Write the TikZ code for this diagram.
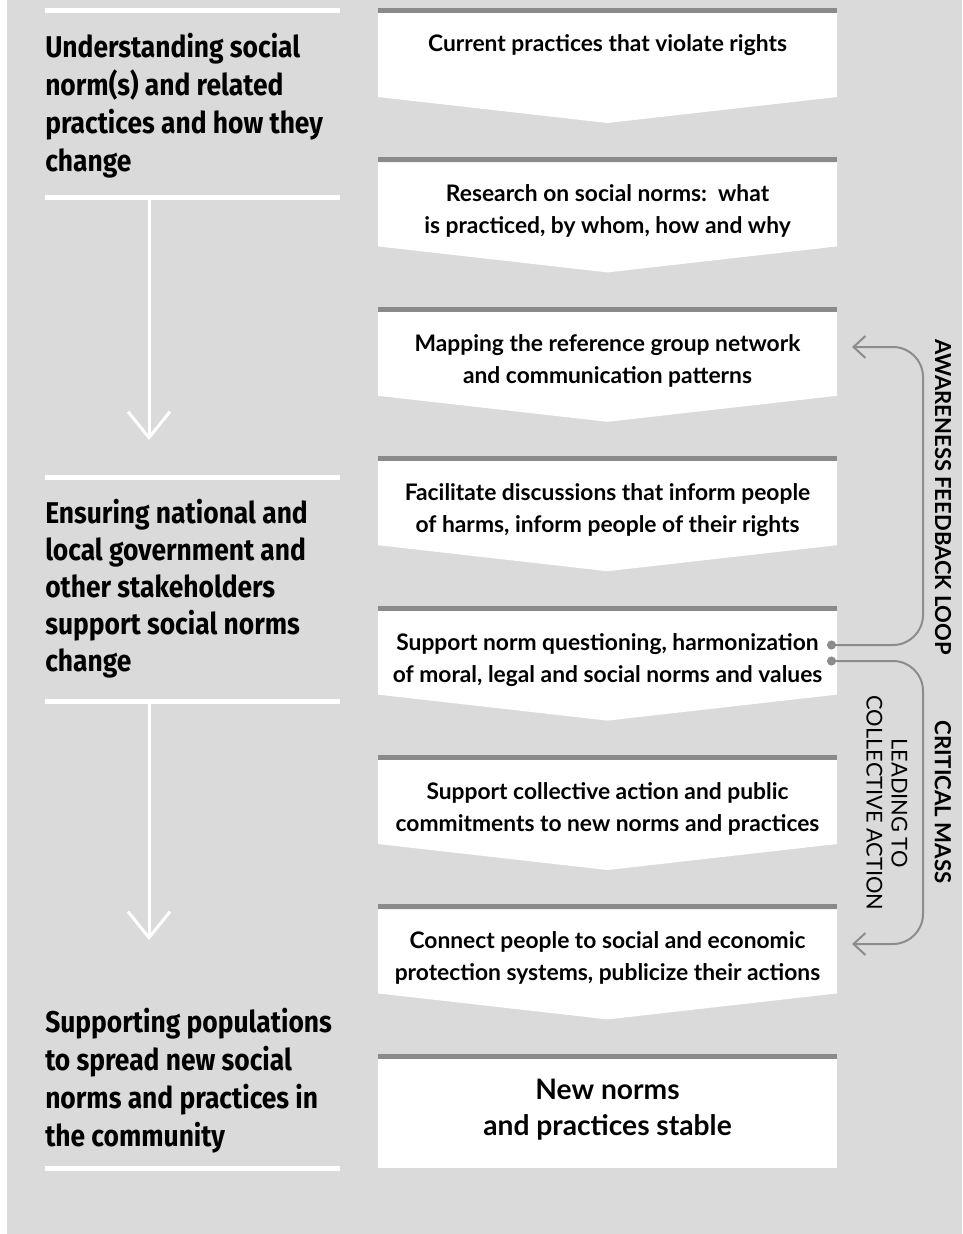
\documentclass[tikz,border=0pt]{standalone}
\usepackage{fontspec}
\setmainfont{Lato}
\newfontfamily\headfont[FakeStretch=0.88]{Fira Sans}
\usetikzlibrary{arrows.meta}
\definecolor{bggray}{RGB}{218,218,218}
\definecolor{bargray}{RGB}{138,138,138}
\definecolor{loopgray}{RGB}{140,140,140}

\begin{document}
\begin{tikzpicture}[x=1pt, y=-1pt, line width=0.5pt,
  headtext/.style={anchor=north west, inner sep=0pt, align=left, font=\headfont\bfseries\fontsize{30}{38}\selectfont},
  boxtext/.style={inner sep=0pt, align=center, font=\bfseries\fontsize{22.8}{32}\selectfont},
  whiterule/.style={white, line width=5pt},
  downline/.style={white, line width=3pt, -{Straight Barb[length=26pt, width=42pt]}},
  loopline/.style={loopgray, line width=2pt, rounded corners=30pt, {Circle[length=9pt]}-{Straight Barb[length=12pt, width=22pt]}},
  looplabel/.style={rotate=-90, inner sep=0pt, align=center, font=\fontsize{21.8}{25}\selectfont}]
  \fill[bggray] (7,0) rectangle (962,1234);
  \useasboundingbox (0,0) rectangle (962,1234);

  % left column
  \foreach \y in {10.5,197.5,477.5,701.5,1168.5}
    \draw[whiterule] (45,\y) -- (340,\y);
  \node[headtext] (stage1) at (45,33) {Understanding social\\norm(s) and related\\practices and how they\\change};
  \node[headtext, font=\headfont\bfseries\fontsize{30}{37}\selectfont] (stage2) at (45,499) {Ensuring national and\\local government and\\other stakeholders\\support social norms\\change};
  \node[headtext] (stage3) at (45,1008) {Supporting populations\\to spread new social\\norms and practices in\\the community};
  \coordinate (arrA) at (149,200);
  \coordinate (tipA) at (149,440);
  \coordinate (arrB) at (149,704);
  \coordinate (tipB) at (149,940);
  \draw[downline] (arrA) -- (tipA);
  \draw[downline] (arrB) -- (tipB);

  % steps
  \foreach \i/\txt/\dy in {
      1/{Current practices that violate rights}/37,
      2/{Research on social norms:\ \ what\\is practiced, by whom, how and why}/54,
      3/{Mapping the reference group network\\and communication patterns}/54,
      4/{Facilitate discussions that inform people\\of harms, inform people of their rights}/54,
      5/{Support norm questioning, harmonization\\of moral, legal and social norms and values}/54,
      6/{Support collective action and public\\commitments to new norms and practices}/54,
      7/{Connect people to social and economic\\protection systems, publicize their actions}/54} {
    \pgfmathsetmacro\top{8+149.4*(\i-1)}
    \fill[white] (378,\top+5) -- (837,\top+5) -- (837,\top+89) -- (607.5,\top+115) -- (378,\top+89) -- cycle;
    \fill[bargray] (378,\top) rectangle (837,\top+5);
    \node[boxtext] (box\i) at (607.5,\top+\dy) {\txt};
  }
  \fill[white] (378,1059) rectangle (837,1168);
  \fill[bargray] (378,1054) rectangle (837,1059);
  \node[boxtext, font=\bfseries\fontsize{28.2}{36}\selectfont] (box8) at (607.5,1110) {New norms\\and practices stable};

  % loops
  \coordinate (fbdot) at (827,645);
  \coordinate (fbtip) at (852,347);
  \coordinate (cmdot) at (827,661);
  \coordinate (cmtip) at (852,944);
  \draw[loopline] (fbdot) -- (923,645) -- (923,347) -- (fbtip);
  \draw[loopline] (cmdot) -- (923,661) -- (923,944) -- (cmtip);
  \node[looplabel, font=\bfseries\fontsize{22}{25}\selectfont] (fblabel) at (943,497) {AWARENESS FEEDBACK LOOP};
  \node[looplabel, font=\bfseries\fontsize{22.2}{25}\selectfont] (cmlabel) at (943,802) {CRITICAL MASS};
  \node[looplabel] (calabel) at (887,803) {LEADING TO\\COLLECTIVE ACTION};
\end{tikzpicture}
\end{document}
